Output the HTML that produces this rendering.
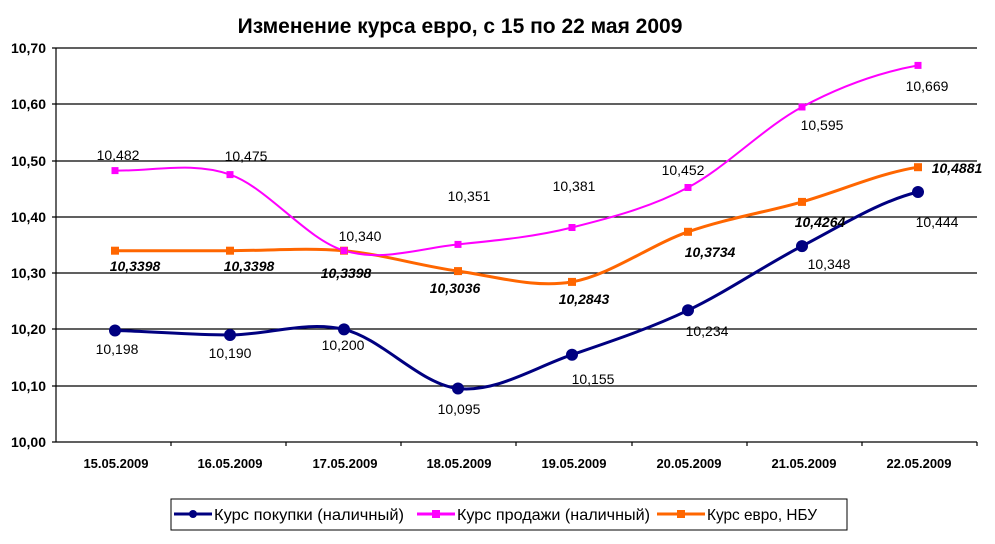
<!DOCTYPE html>
<html><head><meta charset="utf-8"><style>body{margin:0;background:#fff}svg{display:block}text{font-family:"Liberation Sans",Arial,sans-serif}</style></head><body>
<svg width="995" height="544" xmlns="http://www.w3.org/2000/svg">
<text x="460" y="33" font-size="21" font-weight="bold" text-anchor="middle">Изменение курса евро, с 15 по 22 мая 2009</text>
<g stroke="#000" stroke-width="1.2">
<line x1="52" y1="48" x2="977" y2="48"/><line x1="52" y1="104" x2="977" y2="104"/><line x1="52" y1="161" x2="977" y2="161"/><line x1="52" y1="217" x2="977" y2="217"/><line x1="52" y1="273" x2="977" y2="273"/><line x1="52" y1="329" x2="977" y2="329"/><line x1="52" y1="386" x2="977" y2="386"/><line x1="52" y1="442" x2="977" y2="442"/>
<line x1="56" y1="48" x2="56" y2="442"/>
<line x1="171" y1="442" x2="171" y2="446"/><line x1="286" y1="442" x2="286" y2="446"/><line x1="401" y1="442" x2="401" y2="446"/><line x1="516" y1="442" x2="516" y2="446"/><line x1="632" y1="442" x2="632" y2="446"/><line x1="747" y1="442" x2="747" y2="446"/><line x1="862" y1="442" x2="862" y2="446"/><line x1="977" y1="442" x2="977" y2="446"/>
</g>
<g font-size="14" font-weight="bold" text-anchor="end">
<text x="46" y="53">10,70</text><text x="46" y="109">10,60</text><text x="46" y="166">10,50</text><text x="46" y="222">10,40</text><text x="46" y="278">10,30</text><text x="46" y="334">10,20</text><text x="46" y="391">10,10</text><text x="46" y="447">10,00</text>
</g>
<g font-size="13" font-weight="bold" text-anchor="middle">
<text x="116" y="468">15.05.2009</text><text x="230" y="468">16.05.2009</text><text x="345" y="468">17.05.2009</text><text x="459" y="468">18.05.2009</text><text x="574" y="468">19.05.2009</text><text x="689" y="468">20.05.2009</text><text x="804" y="468">21.05.2009</text><text x="919" y="468">22.05.2009</text>
</g>
<path d="M115,250.7 C153,250.7 192,250.7 230,250.7 C268,250.7 306,247.3 344,250.7 C382,254.1 420,265.9 458,271.1 C496,276.3 534,288.5 572,281.9 C610,275.3 650,245.1 688,231.8 C726,218.5 764,212.7 802,201.9 C840,191.1 880,173 918,167.2" fill="none" stroke="#ff6600" stroke-width="3"/>
<path d="M115,170.6 C153,171.3 192,161.3 230,174.6 C268,187.9 306,239 344,250.6 C382,262.2 420,248.3 458,244.4 C496,240.5 534,237 572,227.5 C610,218 650,207.6 688,187.5 C726,167.4 764,127.4 802,107 C840,86.6 880,72.3 918,65.4" fill="none" stroke="#ff00ff" stroke-width="2"/>
<path d="M115,330.5 C153,331.3 192,335.2 230,335 C268,334.8 306,320.5 344,329.4 C382,338.3 420,384.3 458,388.5 C496,392.7 534,367.7 572,354.7 C610,341.7 650,328.4 688,310.3 C726,292.2 764,265.8 802,246.1 C840,226.4 880,201 918,192" fill="none" stroke="#000080" stroke-width="3"/>
<g fill="#ff6600">
<rect x="111" y="246.7" width="8" height="8"/><rect x="226" y="246.7" width="8" height="8"/><rect x="340" y="246.7" width="8" height="8"/><rect x="454" y="267.1" width="8" height="8"/><rect x="568" y="277.9" width="8" height="8"/><rect x="684" y="227.8" width="8" height="8"/><rect x="798" y="197.9" width="8" height="8"/><rect x="914" y="163.2" width="8" height="8"/>
</g>
<g fill="#ff00ff">
<rect x="111.5" y="167.1" width="7" height="7"/><rect x="226.5" y="171.1" width="7" height="7"/><rect x="340.5" y="247.1" width="7" height="7"/><rect x="454.5" y="240.9" width="7" height="7"/><rect x="568.5" y="224" width="7" height="7"/><rect x="684.5" y="184" width="7" height="7"/><rect x="798.5" y="103.5" width="7" height="7"/><rect x="914.5" y="61.9" width="7" height="7"/>
</g>
<g fill="#000080">
<circle cx="115" cy="330.5" r="6"/><circle cx="230" cy="335" r="6"/><circle cx="344" cy="329.4" r="6"/><circle cx="458" cy="388.5" r="6"/><circle cx="572" cy="354.7" r="6"/><circle cx="688" cy="310.3" r="6"/><circle cx="802" cy="246.1" r="6"/><circle cx="918" cy="192" r="6"/>
</g>
<rect x="171" y="499" width="676" height="31" fill="#fff" stroke="#000"/>
<line x1="174" y1="514" x2="212" y2="514" stroke="#000080" stroke-width="3"/><circle cx="193" cy="514" r="4" fill="#000080"/>
<text x="214" y="520" font-size="16" textLength="190" lengthAdjust="spacingAndGlyphs">Курс покупки (наличный)</text>
<line x1="417" y1="514" x2="455" y2="514" stroke="#ff00ff" stroke-width="3"/><rect x="432" y="510" width="8" height="8" fill="#ff00ff"/>
<text x="457" y="520" font-size="16" textLength="193" lengthAdjust="spacingAndGlyphs">Курс продажи (наличный)</text>
<line x1="657" y1="514" x2="705" y2="514" stroke="#ff6600" stroke-width="3"/><rect x="677" y="510" width="8" height="8" fill="#ff6600"/>
<text x="707" y="520" font-size="16" textLength="110" lengthAdjust="spacingAndGlyphs">Курс евро, НБУ</text>
<g font-size="14" text-anchor="middle">
<text x="117" y="354">10,198</text><text x="230" y="358">10,190</text><text x="343" y="350">10,200</text><text x="459" y="414">10,095</text><text x="593" y="384">10,155</text><text x="707" y="336">10,234</text><text x="829" y="269">10,348</text><text x="937" y="227">10,444</text>
<text x="118" y="160">10,482</text><text x="246" y="161">10,475</text><text x="360" y="241">10,340</text><text x="469" y="201">10,351</text><text x="574" y="191">10,381</text><text x="683" y="175">10,452</text><text x="822" y="130">10,595</text><text x="927" y="91">10,669</text>
</g>
<g font-size="14" font-style="italic" font-weight="bold" text-anchor="middle">
<text x="135" y="271">10,3398</text><text x="249" y="271">10,3398</text><text x="346" y="278">10,3398</text><text x="455" y="293">10,3036</text><text x="584" y="304">10,2843</text><text x="710" y="257">10,3734</text><text x="820" y="227">10,4264</text><text x="957" y="173">10,4881</text>
</g>
</svg>
</body></html>
